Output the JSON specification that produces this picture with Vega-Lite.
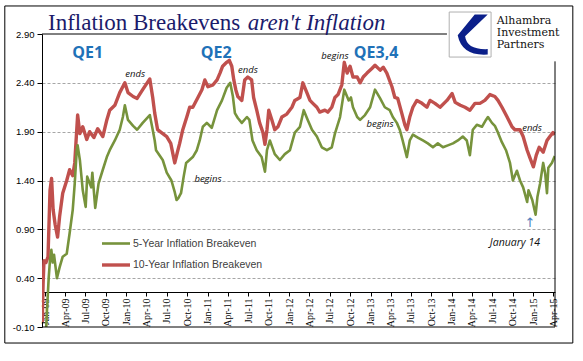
{
  "$schema": "https://vega.github.io/schema/vega-lite/v6.json",
  "width": 513,
  "height": 293,
  "autosize": {"type": "none"},
  "padding": {"left": 42, "top": 34, "right": 28, "bottom": 34},
  "background": "white",
  "config": {"view": {"stroke": null}},
  "datasets": {
    "series": [
      {"d":"2008-12-19","v":-0.05,"s":"10-Year Inflation Breakeven"},
      {"d":"2008-12-23","v":0.35,"s":"10-Year Inflation Breakeven"},
      {"d":"2008-12-27","v":0.58,"s":"10-Year Inflation Breakeven"},
      {"d":"2009-01-05","v":0.56,"s":"10-Year Inflation Breakeven"},
      {"d":"2009-01-14","v":0.62,"s":"10-Year Inflation Breakeven"},
      {"d":"2009-01-23","v":1.30,"s":"10-Year Inflation Breakeven"},
      {"d":"2009-01-30","v":1.42,"s":"10-Year Inflation Breakeven"},
      {"d":"2009-02-06","v":1.10,"s":"10-Year Inflation Breakeven"},
      {"d":"2009-02-15","v":0.95,"s":"10-Year Inflation Breakeven"},
      {"d":"2009-02-26","v":0.82,"s":"10-Year Inflation Breakeven"},
      {"d":"2009-03-07","v":1.03,"s":"10-Year Inflation Breakeven"},
      {"d":"2009-03-21","v":1.27,"s":"10-Year Inflation Breakeven"},
      {"d":"2009-04-08","v":1.40,"s":"10-Year Inflation Breakeven"},
      {"d":"2009-04-21","v":1.51,"s":"10-Year Inflation Breakeven"},
      {"d":"2009-05-05","v":1.45,"s":"10-Year Inflation Breakeven"},
      {"d":"2009-05-14","v":1.58,"s":"10-Year Inflation Breakeven"},
      {"d":"2009-05-23","v":1.92,"s":"10-Year Inflation Breakeven"},
      {"d":"2009-05-27","v":2.07,"s":"10-Year Inflation Breakeven"},
      {"d":"2009-06-06","v":1.88,"s":"10-Year Inflation Breakeven"},
      {"d":"2009-06-19","v":1.95,"s":"10-Year Inflation Breakeven"},
      {"d":"2009-07-07","v":1.82,"s":"10-Year Inflation Breakeven"},
      {"d":"2009-07-20","v":1.90,"s":"10-Year Inflation Breakeven"},
      {"d":"2009-08-08","v":1.84,"s":"10-Year Inflation Breakeven"},
      {"d":"2009-08-25","v":1.93,"s":"10-Year Inflation Breakeven"},
      {"d":"2009-09-17","v":1.85,"s":"10-Year Inflation Breakeven"},
      {"d":"2009-10-05","v":2.02,"s":"10-Year Inflation Breakeven"},
      {"d":"2009-10-18","v":2.12,"s":"10-Year Inflation Breakeven"},
      {"d":"2009-11-10","v":2.17,"s":"10-Year Inflation Breakeven"},
      {"d":"2009-12-02","v":2.30,"s":"10-Year Inflation Breakeven"},
      {"d":"2009-12-25","v":2.40,"s":"10-Year Inflation Breakeven"},
      {"d":"2010-01-08","v":2.30,"s":"10-Year Inflation Breakeven"},
      {"d":"2010-01-31","v":2.26,"s":"10-Year Inflation Breakeven"},
      {"d":"2010-02-18","v":2.24,"s":"10-Year Inflation Breakeven"},
      {"d":"2010-03-15","v":2.33,"s":"10-Year Inflation Breakeven"},
      {"d":"2010-04-16","v":2.44,"s":"10-Year Inflation Breakeven"},
      {"d":"2010-04-29","v":2.25,"s":"10-Year Inflation Breakeven"},
      {"d":"2010-05-08","v":2.09,"s":"10-Year Inflation Breakeven"},
      {"d":"2010-05-21","v":1.92,"s":"10-Year Inflation Breakeven"},
      {"d":"2010-06-13","v":1.88,"s":"10-Year Inflation Breakeven"},
      {"d":"2010-07-01","v":1.85,"s":"10-Year Inflation Breakeven"},
      {"d":"2010-07-19","v":1.78,"s":"10-Year Inflation Breakeven"},
      {"d":"2010-08-06","v":1.58,"s":"10-Year Inflation Breakeven"},
      {"d":"2010-08-19","v":1.70,"s":"10-Year Inflation Breakeven"},
      {"d":"2010-08-28","v":1.78,"s":"10-Year Inflation Breakeven"},
      {"d":"2010-09-11","v":1.92,"s":"10-Year Inflation Breakeven"},
      {"d":"2010-09-29","v":2.05,"s":"10-Year Inflation Breakeven"},
      {"d":"2010-10-12","v":2.15,"s":"10-Year Inflation Breakeven"},
      {"d":"2010-10-26","v":2.15,"s":"10-Year Inflation Breakeven"},
      {"d":"2010-11-18","v":2.25,"s":"10-Year Inflation Breakeven"},
      {"d":"2010-12-06","v":2.33,"s":"10-Year Inflation Breakeven"},
      {"d":"2010-12-19","v":2.43,"s":"10-Year Inflation Breakeven"},
      {"d":"2011-01-02","v":2.36,"s":"10-Year Inflation Breakeven"},
      {"d":"2011-01-25","v":2.38,"s":"10-Year Inflation Breakeven"},
      {"d":"2011-02-12","v":2.43,"s":"10-Year Inflation Breakeven"},
      {"d":"2011-02-25","v":2.50,"s":"10-Year Inflation Breakeven"},
      {"d":"2011-03-09","v":2.57,"s":"10-Year Inflation Breakeven"},
      {"d":"2011-03-27","v":2.61,"s":"10-Year Inflation Breakeven"},
      {"d":"2011-04-08","v":2.63,"s":"10-Year Inflation Breakeven"},
      {"d":"2011-04-19","v":2.57,"s":"10-Year Inflation Breakeven"},
      {"d":"2011-04-28","v":2.43,"s":"10-Year Inflation Breakeven"},
      {"d":"2011-05-07","v":2.33,"s":"10-Year Inflation Breakeven"},
      {"d":"2011-05-16","v":2.26,"s":"10-Year Inflation Breakeven"},
      {"d":"2011-06-03","v":2.22,"s":"10-Year Inflation Breakeven"},
      {"d":"2011-06-16","v":2.43,"s":"10-Year Inflation Breakeven"},
      {"d":"2011-06-30","v":2.46,"s":"10-Year Inflation Breakeven"},
      {"d":"2011-07-17","v":2.43,"s":"10-Year Inflation Breakeven"},
      {"d":"2011-07-26","v":2.25,"s":"10-Year Inflation Breakeven"},
      {"d":"2011-08-09","v":2.12,"s":"10-Year Inflation Breakeven"},
      {"d":"2011-08-22","v":1.99,"s":"10-Year Inflation Breakeven"},
      {"d":"2011-09-06","v":1.89,"s":"10-Year Inflation Breakeven"},
      {"d":"2011-09-15","v":1.77,"s":"10-Year Inflation Breakeven"},
      {"d":"2011-09-24","v":1.92,"s":"10-Year Inflation Breakeven"},
      {"d":"2011-10-02","v":2.12,"s":"10-Year Inflation Breakeven"},
      {"d":"2011-10-16","v":2.02,"s":"10-Year Inflation Breakeven"},
      {"d":"2011-10-29","v":1.92,"s":"10-Year Inflation Breakeven"},
      {"d":"2011-11-12","v":1.95,"s":"10-Year Inflation Breakeven"},
      {"d":"2011-11-30","v":2.05,"s":"10-Year Inflation Breakeven"},
      {"d":"2011-12-22","v":2.08,"s":"10-Year Inflation Breakeven"},
      {"d":"2012-01-14","v":2.15,"s":"10-Year Inflation Breakeven"},
      {"d":"2012-01-27","v":2.22,"s":"10-Year Inflation Breakeven"},
      {"d":"2012-02-19","v":2.25,"s":"10-Year Inflation Breakeven"},
      {"d":"2012-03-03","v":2.40,"s":"10-Year Inflation Breakeven"},
      {"d":"2012-03-21","v":2.30,"s":"10-Year Inflation Breakeven"},
      {"d":"2012-04-04","v":2.22,"s":"10-Year Inflation Breakeven"},
      {"d":"2012-04-17","v":2.19,"s":"10-Year Inflation Breakeven"},
      {"d":"2012-05-05","v":2.15,"s":"10-Year Inflation Breakeven"},
      {"d":"2012-05-18","v":2.10,"s":"10-Year Inflation Breakeven"},
      {"d":"2012-06-10","v":2.12,"s":"10-Year Inflation Breakeven"},
      {"d":"2012-06-23","v":2.10,"s":"10-Year Inflation Breakeven"},
      {"d":"2012-07-11","v":2.15,"s":"10-Year Inflation Breakeven"},
      {"d":"2012-07-25","v":2.25,"s":"10-Year Inflation Breakeven"},
      {"d":"2012-08-08","v":2.28,"s":"10-Year Inflation Breakeven"},
      {"d":"2012-08-25","v":2.38,"s":"10-Year Inflation Breakeven"},
      {"d":"2012-09-05","v":2.61,"s":"10-Year Inflation Breakeven"},
      {"d":"2012-09-18","v":2.50,"s":"10-Year Inflation Breakeven"},
      {"d":"2012-10-01","v":2.57,"s":"10-Year Inflation Breakeven"},
      {"d":"2012-10-14","v":2.46,"s":"10-Year Inflation Breakeven"},
      {"d":"2012-11-02","v":2.46,"s":"10-Year Inflation Breakeven"},
      {"d":"2012-11-15","v":2.40,"s":"10-Year Inflation Breakeven"},
      {"d":"2012-11-29","v":2.46,"s":"10-Year Inflation Breakeven"},
      {"d":"2012-12-16","v":2.50,"s":"10-Year Inflation Breakeven"},
      {"d":"2013-01-08","v":2.55,"s":"10-Year Inflation Breakeven"},
      {"d":"2013-01-21","v":2.58,"s":"10-Year Inflation Breakeven"},
      {"d":"2013-02-13","v":2.53,"s":"10-Year Inflation Breakeven"},
      {"d":"2013-02-27","v":2.56,"s":"10-Year Inflation Breakeven"},
      {"d":"2013-03-15","v":2.50,"s":"10-Year Inflation Breakeven"},
      {"d":"2013-04-07","v":2.36,"s":"10-Year Inflation Breakeven"},
      {"d":"2013-04-20","v":2.25,"s":"10-Year Inflation Breakeven"},
      {"d":"2013-05-03","v":2.24,"s":"10-Year Inflation Breakeven"},
      {"d":"2013-05-21","v":2.09,"s":"10-Year Inflation Breakeven"},
      {"d":"2013-06-04","v":1.97,"s":"10-Year Inflation Breakeven"},
      {"d":"2013-06-13","v":1.92,"s":"10-Year Inflation Breakeven"},
      {"d":"2013-06-26","v":2.05,"s":"10-Year Inflation Breakeven"},
      {"d":"2013-07-10","v":2.15,"s":"10-Year Inflation Breakeven"},
      {"d":"2013-07-28","v":2.22,"s":"10-Year Inflation Breakeven"},
      {"d":"2013-08-20","v":2.19,"s":"10-Year Inflation Breakeven"},
      {"d":"2013-09-11","v":2.15,"s":"10-Year Inflation Breakeven"},
      {"d":"2013-09-25","v":2.22,"s":"10-Year Inflation Breakeven"},
      {"d":"2013-10-17","v":2.19,"s":"10-Year Inflation Breakeven"},
      {"d":"2013-11-09","v":2.15,"s":"10-Year Inflation Breakeven"},
      {"d":"2013-12-10","v":2.22,"s":"10-Year Inflation Breakeven"},
      {"d":"2014-01-02","v":2.29,"s":"10-Year Inflation Breakeven"},
      {"d":"2014-01-16","v":2.20,"s":"10-Year Inflation Breakeven"},
      {"d":"2014-02-08","v":2.17,"s":"10-Year Inflation Breakeven"},
      {"d":"2014-03-01","v":2.15,"s":"10-Year Inflation Breakeven"},
      {"d":"2014-03-23","v":2.12,"s":"10-Year Inflation Breakeven"},
      {"d":"2014-04-15","v":2.19,"s":"10-Year Inflation Breakeven"},
      {"d":"2014-05-07","v":2.19,"s":"10-Year Inflation Breakeven"},
      {"d":"2014-05-29","v":2.22,"s":"10-Year Inflation Breakeven"},
      {"d":"2014-06-21","v":2.28,"s":"10-Year Inflation Breakeven"},
      {"d":"2014-07-13","v":2.26,"s":"10-Year Inflation Breakeven"},
      {"d":"2014-07-27","v":2.22,"s":"10-Year Inflation Breakeven"},
      {"d":"2014-08-14","v":2.15,"s":"10-Year Inflation Breakeven"},
      {"d":"2014-09-06","v":2.05,"s":"10-Year Inflation Breakeven"},
      {"d":"2014-09-28","v":1.95,"s":"10-Year Inflation Breakeven"},
      {"d":"2014-10-11","v":1.92,"s":"10-Year Inflation Breakeven"},
      {"d":"2014-11-03","v":1.92,"s":"10-Year Inflation Breakeven"},
      {"d":"2014-11-17","v":1.85,"s":"10-Year Inflation Breakeven"},
      {"d":"2014-12-05","v":1.71,"s":"10-Year Inflation Breakeven"},
      {"d":"2014-12-18","v":1.63,"s":"10-Year Inflation Breakeven"},
      {"d":"2015-01-02","v":1.54,"s":"10-Year Inflation Breakeven"},
      {"d":"2015-01-15","v":1.66,"s":"10-Year Inflation Breakeven"},
      {"d":"2015-01-28","v":1.74,"s":"10-Year Inflation Breakeven"},
      {"d":"2015-02-15","v":1.69,"s":"10-Year Inflation Breakeven"},
      {"d":"2015-03-04","v":1.81,"s":"10-Year Inflation Breakeven"},
      {"d":"2015-03-17","v":1.85,"s":"10-Year Inflation Breakeven"},
      {"d":"2015-03-31","v":1.89,"s":"10-Year Inflation Breakeven"},
      {"d":"2015-04-08","v":1.87,"s":"10-Year Inflation Breakeven"},

      {"d":"2008-12-20","v":-0.50,"s":"5-Year Inflation Breakeven"},
      {"d":"2009-01-02","v":-0.30,"s":"5-Year Inflation Breakeven"},
      {"d":"2009-01-10","v":0.10,"s":"5-Year Inflation Breakeven"},
      {"d":"2009-01-17","v":0.40,"s":"5-Year Inflation Breakeven"},
      {"d":"2009-01-23","v":0.59,"s":"5-Year Inflation Breakeven"},
      {"d":"2009-01-29","v":0.69,"s":"5-Year Inflation Breakeven"},
      {"d":"2009-02-04","v":0.56,"s":"5-Year Inflation Breakeven"},
      {"d":"2009-02-10","v":0.64,"s":"5-Year Inflation Breakeven"},
      {"d":"2009-02-23","v":0.40,"s":"5-Year Inflation Breakeven"},
      {"d":"2009-03-07","v":0.51,"s":"5-Year Inflation Breakeven"},
      {"d":"2009-03-21","v":0.62,"s":"5-Year Inflation Breakeven"},
      {"d":"2009-04-08","v":0.65,"s":"5-Year Inflation Breakeven"},
      {"d":"2009-04-21","v":0.86,"s":"5-Year Inflation Breakeven"},
      {"d":"2009-05-05","v":1.10,"s":"5-Year Inflation Breakeven"},
      {"d":"2009-05-14","v":1.37,"s":"5-Year Inflation Breakeven"},
      {"d":"2009-05-23","v":1.71,"s":"5-Year Inflation Breakeven"},
      {"d":"2009-05-27","v":1.76,"s":"5-Year Inflation Breakeven"},
      {"d":"2009-06-06","v":1.61,"s":"5-Year Inflation Breakeven"},
      {"d":"2009-06-19","v":1.30,"s":"5-Year Inflation Breakeven"},
      {"d":"2009-07-02","v":1.13,"s":"5-Year Inflation Breakeven"},
      {"d":"2009-07-09","v":1.44,"s":"5-Year Inflation Breakeven"},
      {"d":"2009-07-27","v":1.33,"s":"5-Year Inflation Breakeven"},
      {"d":"2009-08-01","v":1.48,"s":"5-Year Inflation Breakeven"},
      {"d":"2009-08-14","v":1.12,"s":"5-Year Inflation Breakeven"},
      {"d":"2009-08-29","v":1.37,"s":"5-Year Inflation Breakeven"},
      {"d":"2009-09-17","v":1.51,"s":"5-Year Inflation Breakeven"},
      {"d":"2009-10-05","v":1.64,"s":"5-Year Inflation Breakeven"},
      {"d":"2009-10-18","v":1.71,"s":"5-Year Inflation Breakeven"},
      {"d":"2009-11-10","v":1.81,"s":"5-Year Inflation Breakeven"},
      {"d":"2009-12-02","v":1.92,"s":"5-Year Inflation Breakeven"},
      {"d":"2009-12-16","v":2.05,"s":"5-Year Inflation Breakeven"},
      {"d":"2009-12-25","v":2.17,"s":"5-Year Inflation Breakeven"},
      {"d":"2010-01-08","v":2.02,"s":"5-Year Inflation Breakeven"},
      {"d":"2010-01-31","v":1.96,"s":"5-Year Inflation Breakeven"},
      {"d":"2010-02-18","v":1.92,"s":"5-Year Inflation Breakeven"},
      {"d":"2010-03-15","v":1.99,"s":"5-Year Inflation Breakeven"},
      {"d":"2010-04-16","v":2.07,"s":"5-Year Inflation Breakeven"},
      {"d":"2010-04-29","v":1.92,"s":"5-Year Inflation Breakeven"},
      {"d":"2010-05-08","v":1.81,"s":"5-Year Inflation Breakeven"},
      {"d":"2010-05-14","v":1.71,"s":"5-Year Inflation Breakeven"},
      {"d":"2010-06-13","v":1.61,"s":"5-Year Inflation Breakeven"},
      {"d":"2010-07-01","v":1.48,"s":"5-Year Inflation Breakeven"},
      {"d":"2010-07-22","v":1.40,"s":"5-Year Inflation Breakeven"},
      {"d":"2010-08-06","v":1.28,"s":"5-Year Inflation Breakeven"},
      {"d":"2010-08-14","v":1.20,"s":"5-Year Inflation Breakeven"},
      {"d":"2010-08-22","v":1.22,"s":"5-Year Inflation Breakeven"},
      {"d":"2010-09-03","v":1.27,"s":"5-Year Inflation Breakeven"},
      {"d":"2010-09-15","v":1.44,"s":"5-Year Inflation Breakeven"},
      {"d":"2010-09-26","v":1.58,"s":"5-Year Inflation Breakeven"},
      {"d":"2010-10-26","v":1.64,"s":"5-Year Inflation Breakeven"},
      {"d":"2010-11-13","v":1.71,"s":"5-Year Inflation Breakeven"},
      {"d":"2010-11-26","v":1.81,"s":"5-Year Inflation Breakeven"},
      {"d":"2010-12-10","v":1.95,"s":"5-Year Inflation Breakeven"},
      {"d":"2010-12-28","v":1.99,"s":"5-Year Inflation Breakeven"},
      {"d":"2011-01-19","v":1.94,"s":"5-Year Inflation Breakeven"},
      {"d":"2011-02-12","v":2.12,"s":"5-Year Inflation Breakeven"},
      {"d":"2011-03-06","v":2.22,"s":"5-Year Inflation Breakeven"},
      {"d":"2011-03-27","v":2.35,"s":"5-Year Inflation Breakeven"},
      {"d":"2011-04-12","v":2.40,"s":"5-Year Inflation Breakeven"},
      {"d":"2011-04-24","v":2.26,"s":"5-Year Inflation Breakeven"},
      {"d":"2011-05-03","v":2.09,"s":"5-Year Inflation Breakeven"},
      {"d":"2011-05-16","v":2.04,"s":"5-Year Inflation Breakeven"},
      {"d":"2011-06-03","v":1.99,"s":"5-Year Inflation Breakeven"},
      {"d":"2011-06-26","v":2.05,"s":"5-Year Inflation Breakeven"},
      {"d":"2011-07-07","v":2.02,"s":"5-Year Inflation Breakeven"},
      {"d":"2011-07-21","v":1.81,"s":"5-Year Inflation Breakeven"},
      {"d":"2011-08-09","v":1.71,"s":"5-Year Inflation Breakeven"},
      {"d":"2011-08-31","v":1.64,"s":"5-Year Inflation Breakeven"},
      {"d":"2011-09-15","v":1.49,"s":"5-Year Inflation Breakeven"},
      {"d":"2011-09-24","v":1.71,"s":"5-Year Inflation Breakeven"},
      {"d":"2011-10-07","v":1.81,"s":"5-Year Inflation Breakeven"},
      {"d":"2011-10-29","v":1.67,"s":"5-Year Inflation Breakeven"},
      {"d":"2011-11-21","v":1.61,"s":"5-Year Inflation Breakeven"},
      {"d":"2011-12-13","v":1.67,"s":"5-Year Inflation Breakeven"},
      {"d":"2012-01-05","v":1.71,"s":"5-Year Inflation Breakeven"},
      {"d":"2012-01-27","v":1.89,"s":"5-Year Inflation Breakeven"},
      {"d":"2012-02-19","v":1.95,"s":"5-Year Inflation Breakeven"},
      {"d":"2012-03-07","v":2.12,"s":"5-Year Inflation Breakeven"},
      {"d":"2012-03-25","v":2.02,"s":"5-Year Inflation Breakeven"},
      {"d":"2012-04-13","v":1.92,"s":"5-Year Inflation Breakeven"},
      {"d":"2012-05-05","v":1.85,"s":"5-Year Inflation Breakeven"},
      {"d":"2012-05-27","v":1.74,"s":"5-Year Inflation Breakeven"},
      {"d":"2012-06-19","v":1.71,"s":"5-Year Inflation Breakeven"},
      {"d":"2012-07-11","v":1.74,"s":"5-Year Inflation Breakeven"},
      {"d":"2012-07-25","v":1.88,"s":"5-Year Inflation Breakeven"},
      {"d":"2012-08-17","v":2.05,"s":"5-Year Inflation Breakeven"},
      {"d":"2012-09-05","v":2.33,"s":"5-Year Inflation Breakeven"},
      {"d":"2012-09-25","v":2.22,"s":"5-Year Inflation Breakeven"},
      {"d":"2012-10-05","v":2.25,"s":"5-Year Inflation Breakeven"},
      {"d":"2012-10-14","v":2.15,"s":"5-Year Inflation Breakeven"},
      {"d":"2012-11-02","v":2.05,"s":"5-Year Inflation Breakeven"},
      {"d":"2012-11-15","v":2.02,"s":"5-Year Inflation Breakeven"},
      {"d":"2012-12-07","v":2.07,"s":"5-Year Inflation Breakeven"},
      {"d":"2012-12-30","v":2.15,"s":"5-Year Inflation Breakeven"},
      {"d":"2013-01-21","v":2.33,"s":"5-Year Inflation Breakeven"},
      {"d":"2013-02-13","v":2.24,"s":"5-Year Inflation Breakeven"},
      {"d":"2013-03-06","v":2.15,"s":"5-Year Inflation Breakeven"},
      {"d":"2013-03-28","v":2.12,"s":"5-Year Inflation Breakeven"},
      {"d":"2013-04-11","v":2.05,"s":"5-Year Inflation Breakeven"},
      {"d":"2013-04-29","v":1.99,"s":"5-Year Inflation Breakeven"},
      {"d":"2013-05-12","v":1.92,"s":"5-Year Inflation Breakeven"},
      {"d":"2013-05-25","v":1.81,"s":"5-Year Inflation Breakeven"},
      {"d":"2013-06-13","v":1.64,"s":"5-Year Inflation Breakeven"},
      {"d":"2013-06-26","v":1.81,"s":"5-Year Inflation Breakeven"},
      {"d":"2013-07-10","v":1.87,"s":"5-Year Inflation Breakeven"},
      {"d":"2013-08-01","v":1.84,"s":"5-Year Inflation Breakeven"},
      {"d":"2013-08-24","v":1.81,"s":"5-Year Inflation Breakeven"},
      {"d":"2013-09-15","v":1.78,"s":"5-Year Inflation Breakeven"},
      {"d":"2013-10-08","v":1.74,"s":"5-Year Inflation Breakeven"},
      {"d":"2013-10-30","v":1.78,"s":"5-Year Inflation Breakeven"},
      {"d":"2013-11-22","v":1.74,"s":"5-Year Inflation Breakeven"},
      {"d":"2013-12-14","v":1.76,"s":"5-Year Inflation Breakeven"},
      {"d":"2014-01-06","v":1.78,"s":"5-Year Inflation Breakeven"},
      {"d":"2014-01-28","v":1.81,"s":"5-Year Inflation Breakeven"},
      {"d":"2014-02-19","v":1.85,"s":"5-Year Inflation Breakeven"},
      {"d":"2014-03-09","v":1.81,"s":"5-Year Inflation Breakeven"},
      {"d":"2014-03-23","v":1.66,"s":"5-Year Inflation Breakeven"},
      {"d":"2014-04-05","v":1.92,"s":"5-Year Inflation Breakeven"},
      {"d":"2014-04-23","v":1.97,"s":"5-Year Inflation Breakeven"},
      {"d":"2014-05-16","v":1.95,"s":"5-Year Inflation Breakeven"},
      {"d":"2014-06-03","v":2.02,"s":"5-Year Inflation Breakeven"},
      {"d":"2014-06-12","v":2.05,"s":"5-Year Inflation Breakeven"},
      {"d":"2014-06-30","v":1.99,"s":"5-Year Inflation Breakeven"},
      {"d":"2014-07-13","v":1.96,"s":"5-Year Inflation Breakeven"},
      {"d":"2014-07-27","v":1.89,"s":"5-Year Inflation Breakeven"},
      {"d":"2014-08-14","v":1.79,"s":"5-Year Inflation Breakeven"},
      {"d":"2014-09-01","v":1.71,"s":"5-Year Inflation Breakeven"},
      {"d":"2014-09-19","v":1.58,"s":"5-Year Inflation Breakeven"},
      {"d":"2014-10-02","v":1.40,"s":"5-Year Inflation Breakeven"},
      {"d":"2014-10-20","v":1.50,"s":"5-Year Inflation Breakeven"},
      {"d":"2014-11-03","v":1.40,"s":"5-Year Inflation Breakeven"},
      {"d":"2014-11-17","v":1.33,"s":"5-Year Inflation Breakeven"},
      {"d":"2014-12-05","v":1.18,"s":"5-Year Inflation Breakeven"},
      {"d":"2014-12-11","v":1.30,"s":"5-Year Inflation Breakeven"},
      {"d":"2014-12-28","v":1.20,"s":"5-Year Inflation Breakeven"},
      {"d":"2015-01-12","v":1.05,"s":"5-Year Inflation Breakeven"},
      {"d":"2015-01-20","v":1.23,"s":"5-Year Inflation Breakeven"},
      {"d":"2015-02-01","v":1.37,"s":"5-Year Inflation Breakeven"},
      {"d":"2015-02-15","v":1.58,"s":"5-Year Inflation Breakeven"},
      {"d":"2015-02-24","v":1.47,"s":"5-Year Inflation Breakeven"},
      {"d":"2015-03-04","v":1.27,"s":"5-Year Inflation Breakeven"},
      {"d":"2015-03-10","v":1.53,"s":"5-Year Inflation Breakeven"},
      {"d":"2015-03-26","v":1.58,"s":"5-Year Inflation Breakeven"},
      {"d":"2015-04-08","v":1.65,"s":"5-Year Inflation Breakeven"}
    ],
    "border": [{"d":"2008-07-04","d2":"2015-06-28","v":3.187,"v2":-0.264}],
    "frame": [
      {"d":"2008-12-18","d2":"2013-12-10","v":2.9,"v2":2.9},
      {"d":"2015-04-09","d2":"2015-04-09","v":2.62,"v2":-0.1},
      {"d":"2008-12-18","d2":"2015-04-09","v":-0.1,"v2":-0.1}
    ],
    "logobox": [{"d":"2013-12-20","d2":"2014-06-26","v":3.125,"v2":2.664}],
    "logomark": [{"d":"2014-03-23","v":2.895}],
    "logotext": [
      {"d":"2014-07-22","v":3.002,"t":"Alhambra"},
      {"d":"2014-07-22","v":2.88,"t":"Investment"},
      {"d":"2014-07-22","v":2.757,"t":"Partners"}
    ],
    "title1": [{"d":"2009-01-14","v":2.94,"t":"Inflation Breakevens"}],
    "title2": [{"d":"2011-06-30","v":2.94,"t":"aren't Inflation"}],
    "qe": [
      {"d":"2009-07-11","v":2.654,"t":"QE1"},
      {"d":"2011-02-08","v":2.654,"t":"QE2"},
      {"d":"2013-01-26","v":2.654,"t":"QE3,4"}
    ],
    "notes": [
      {"d":"2012-07-25","v":2.644,"t":"begins"},
      {"d":"2010-02-09","v":2.46,"t":"ends"},
      {"d":"2011-06-30","v":2.50,"t":"ends"},
      {"d":"2011-01-02","v":1.385,"t":"begins"},
      {"d":"2013-02-13","v":1.948,"t":"begins"},
      {"d":"2014-12-27","v":1.907,"t":"ends"}
    ],
    "datenote": [{"d":"2014-10-11","v":0.73,"t":"January 14"}],
    "arrow": [{"d":"2014-12-18","v":0.965,"t":"↑"}]
  },
  "layer": [
    {
      "data": {"name": "border"},
      "mark": {"type": "rect", "fill": null, "stroke": "#000000", "strokeWidth": 1, "clip": false},
      "encoding": {
        "x": {"field": "d", "type": "temporal"},
        "x2": {"field": "d2"},
        "y": {"field": "v", "type": "quantitative"},
        "y2": {"field": "v2"}
      }
    },
    {
      "data": {"name": "series"},
      "mark": {"type": "line", "clip": true, "strokeJoin": "round"},
      "encoding": {
        "x": {
          "field": "d", "type": "temporal",
          "scale": {"type": "utc", "domain": [{"year": 2008, "month": 12, "date": 18, "utc": true}, {"year": 2015, "month": 4, "date": 9, "utc": true}]},
          "axis": {
            "title": null, "offset": -35, "tickCount": {"interval": "month", "step": 3},
            "format": "%b-%y", "labelAngle": -90, "labelFont": "Liberation Serif", "labelFontSize": 10,
            "labelColor": "#000000", "domainColor": "#000000", "tickColor": "#000000", "tickSize": 4,
            "grid": false, "labelOverlap": false, "labelFlush": false, "labelBound": false, "labelPadding": 2
          }
        },
        "y": {
          "field": "v", "type": "quantitative",
          "scale": {"domain": [-0.1, 2.9], "nice": false, "zero": false},
          "axis": {
            "title": null, "values": [-0.1, 0.4, 0.9, 1.4, 1.9, 2.4, 2.9],
            "labelExpr": "replace(format(datum.value, '.2f'), '\u2212', '-')",
            "labelFont": "Liberation Sans", "labelFontSize": 9.5, "labelColor": "#000000",
            "domainColor": "#000000", "tickColor": "#000000", "tickSize": 5, "labelPadding": 3,
            "grid": true, "gridDash": [3, 2], "gridColor": "#a6a6a6",
            "gridOpacity": {"condition": {"test": "datum.value > 2.8 || datum.value < 0", "value": 0}, "value": 1}
          }
        },
        "color": {
          "field": "s", "type": "nominal",
          "scale": {"domain": ["5-Year Inflation Breakeven", "10-Year Inflation Breakeven"], "range": ["#77933c", "#c0504d"]},
          "legend": {
            "orient": "none", "legendX": 58, "legendY": 194, "title": null,
            "symbolType": "stroke", "symbolSize": 784, "labelFont": "Liberation Sans", "labelFontSize": 10.5,
            "labelColor": "#404040", "labelOffset": 1, "rowPadding": 0
          }
        },
        "strokeWidth": {
          "field": "s", "type": "nominal",
          "scale": {"domain": ["5-Year Inflation Breakeven", "10-Year Inflation Breakeven"], "range": [2.6, 3.4]},
          "legend": {
            "orient": "none", "legendX": 58, "legendY": 194, "title": null,
            "symbolType": "stroke", "symbolSize": 784, "labelFont": "Liberation Sans", "labelFontSize": 10.5,
            "labelColor": "#404040", "labelOffset": 1, "rowPadding": 0
          }
        },
        "order": {"field": "d", "type": "temporal"}
      }
    },
    {
      "data": {"name": "frame"},
      "mark": {"type": "rule", "color": "#000000", "strokeWidth": 1, "clip": false},
      "encoding": {
        "x": {"field": "d", "type": "temporal"},
        "x2": {"field": "d2"},
        "y": {"field": "v", "type": "quantitative"},
        "y2": {"field": "v2"}
      }
    },
    {
      "data": {"name": "logobox"},
      "mark": {"type": "rect", "fill": "#ffffff", "stroke": "#b0b0b0", "strokeWidth": 1, "clip": false},
      "encoding": {
        "x": {"field": "d", "type": "temporal"},
        "x2": {"field": "d2"},
        "y": {"field": "v", "type": "quantitative"},
        "y2": {"field": "v2"}
      }
    },
    {
      "data": {"name": "logomark"},
      "mark": {"type": "point", "filled": true, "color": "#0b1f8a", "size": 1600, "opacity": 1, "clip": false,
        "shape": "M0.89,-1 L0.24,-1 L-0.61,0.04 Q-0.4,1.09 0.89,1 L0.89,0.73 Q-0.16,0.77 -0.24,0.09 Z"},
      "encoding": {
        "x": {"field": "d", "type": "temporal"},
        "y": {"field": "v", "type": "quantitative"}
      }
    },
    {
      "data": {"name": "logotext"},
      "mark": {"type": "text", "align": "left", "baseline": "alphabetic", "font": "DejaVu Serif", "fontSize": 11, "color": "#111111", "clip": false},
      "encoding": {
        "x": {"field": "d", "type": "temporal"},
        "y": {"field": "v", "type": "quantitative"},
        "text": {"field": "t"}
      }
    },
    {
      "data": {"name": "title1"},
      "mark": {"type": "text", "align": "left", "baseline": "alphabetic", "font": "Liberation Serif", "fontSize": 23, "color": "#1b1b6b", "clip": false},
      "encoding": {
        "x": {"field": "d", "type": "temporal"},
        "y": {"field": "v", "type": "quantitative"},
        "text": {"field": "t"}
      }
    },
    {
      "data": {"name": "title2"},
      "mark": {"type": "text", "align": "left", "baseline": "alphabetic", "font": "Liberation Serif", "fontSize": 23, "fontStyle": "italic", "color": "#1b1b6b", "clip": false},
      "encoding": {
        "x": {"field": "d", "type": "temporal"},
        "y": {"field": "v", "type": "quantitative"},
        "text": {"field": "t"}
      }
    },
    {
      "data": {"name": "qe"},
      "mark": {"type": "text", "align": "center", "baseline": "alphabetic", "font": "Open Sans", "fontSize": 16, "fontWeight": "bold", "color": "#1f72b8"},
      "encoding": {
        "x": {"field": "d", "type": "temporal"},
        "y": {"field": "v", "type": "quantitative"},
        "text": {"field": "t"}
      }
    },
    {
      "data": {"name": "notes"},
      "mark": {"type": "text", "align": "center", "baseline": "alphabetic", "font": "Open Sans", "fontSize": 9.5, "fontStyle": "italic", "color": "#111111"},
      "encoding": {
        "x": {"field": "d", "type": "temporal"},
        "y": {"field": "v", "type": "quantitative"},
        "text": {"field": "t"}
      }
    },
    {
      "data": {"name": "datenote"},
      "mark": {"type": "text", "align": "center", "baseline": "alphabetic", "font": "Open Sans", "fontSize": 10.5, "fontStyle": "italic", "color": "#111111"},
      "encoding": {
        "x": {"field": "d", "type": "temporal"},
        "y": {"field": "v", "type": "quantitative"},
        "text": {"field": "t"}
      }
    },
    {
      "data": {"name": "arrow"},
      "mark": {"type": "text", "align": "center", "baseline": "middle", "font": "DejaVu Sans", "fontSize": 13, "color": "#4f7fc0"},
      "encoding": {
        "x": {"field": "d", "type": "temporal"},
        "y": {"field": "v", "type": "quantitative"},
        "text": {"field": "t"}
      }
    }
  ]
}
